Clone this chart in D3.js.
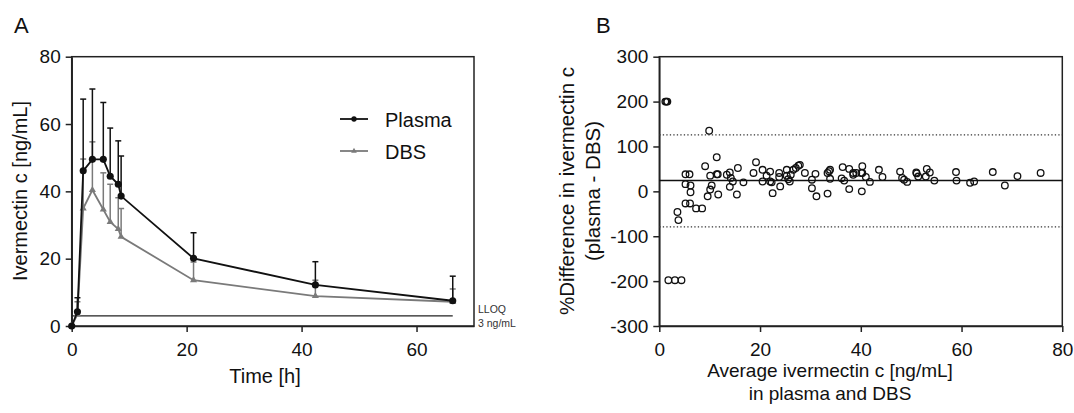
<!DOCTYPE html>
<html>
<head>
<meta charset="utf-8">
<script src="https://cdn.jsdelivr.net/npm/d3@7"></script>
<style>
  body { margin: 0; background: #fff; }
  svg { font-family: "Liberation Sans", Arial, sans-serif; }
  .axis text { font-size: 19px; fill: #111; }
  .axis line, .axis path { stroke: #222; stroke-width: 1.5; }
</style>
</head>
<body>
<svg id="chart" width="1074" height="413"></svg>
<script>
// panel A: time course, mean + upper SD
const times       = [0, 1, 2, 3.6, 5.5, 6.7, 8.1, 8.6, 21.2, 42.4, 66.3];
const plasmaMean  = [0, 4.2, 46.1, 49.5, 49.5, 44.5, 42.1, 38.6, 20.1, 12.2, 7.5];
const plasmaUpper = [0, 8.4, 67.4, 70.4, 66.4, 58.8, 55.0, 50.5, 27.7, 19.1, 14.8];
const dbsMean     = [0, 3.5, 34.9, 40.4, 34.6, 30.9, 28.8, 26.5, 13.6, 8.9, 7.2];
const dbsUpper    = [0, 7.2, 49.6, 54.7, 45.5, 42.1, 38.1, 34.9, 19.0, 13.6, 11.0];
const lloq = 3;
const ticksA_x = [0, 20, 40, 60];
const ticksA_y = [0, 20, 40, 60, 80];

// panel B: Bland-Altman
const avgConc = [1.2,1.4,1.6, 9.9, 3.6, 3.8, 1.8,3.1,4.4, 5.2,6.0, 5.2, 6.2, 6.2, 5.2,6.1, 7.3,8.5, 9.1, 9.6,
  10.1, 10.4, 10.1, 11.4, 11.4,11.6, 11.7, 13.4, 14.0, 14.2, 14.0, 14.6, 15.4, 15.6, 16.7, 18.7, 19.2, 20.5, 20.5, 21.3,
  22.0, 22.0, 22.3, 22.5, 23.8, 24.0, 23.8, 25.3, 25.3, 25.6, 25.9, 26.1, 26.6, 27.1, 27.6, 27.9, 28.9, 30.3, 30.3, 31.0,
  31.2, 33.4, 33.7, 33.9, 33.9, 33.4, 36.4, 36.2, 36.7, 37.7, 37.7, 38.5, 38.5, 39.1, 40.1, 40.3, 40.3, 40.2, 41.0, 41.8,
  43.6, 44.3, 47.8, 48.2, 48.6, 49.2, 51.0, 51.1, 51.4, 53.1, 53.7, 52.9, 54.6, 58.9, 59.0, 61.7, 62.5, 66.2, 68.6, 71.1, 75.7];
const pctDiff = [200,200,200, 135, -46, -64, -198,-198,-198, 38,38, 16, 13, -2, -27,-27, -38,-38, 56, -11,
  4, 13, 35, 76, 38,38, -7, 37, 42, 30, 10, 22, -7, 52, 20, 41, 65, 48, 22, 35,
  44, 22, 20, -4, 41, 11, 32, 48, 35, 27, 22, 37, 48, 52, 57, 59, 41, 26, 7, 39,
  -11, 41, 45, 48, 28, -5, 54, 29, 24, 50, 5, 41, 37, 41, 41, 56, 41, 0, 32, 21,
  48, 32, 44, 30, 26, 21, 42, 40, 33, 50, 42, 33, 24, 43, 24, 19, 22, 43, 13, 34, 41];
const bias = 24;
const limits = [-79, 126];
const ticksB_x = [0, 20, 40, 60, 80];
const ticksB_y = [-300, -200, -100, 0, 100, 200, 300];

const svg = d3.select("#chart");
const dark = "#111", grey = "#7a7a7a";

function frame(g, x, y) {
  g.append("rect")
    .attr("x", x.range()[0]).attr("y", y.range()[1])
    .attr("width", x.range()[1] - x.range()[0])
    .attr("height", y.range()[0] - y.range()[1])
    .attr("fill", "none").attr("stroke", "#222").attr("stroke-width", 1.5);
}

// plain hyphen for negatives, like the original figure
const fmt = d => String(d);

function axes(g, x, y, xt, yt) {
  g.append("g").attr("class", "axis")
    .attr("transform", `translate(0,${y.range()[0]})`)
    .call(d3.axisBottom(x).tickValues(xt).tickSize(6).tickSizeOuter(0).tickPadding(11).tickFormat(fmt));
  g.append("g").attr("class", "axis")
    .attr("transform", `translate(${x.range()[0]},0)`)
    .call(d3.axisLeft(y).tickValues(yt).tickSize(6).tickSizeOuter(0).tickPadding(5).tickFormat(fmt));
  frame(g, x, y);
}

// ---------- A ----------
const xA = d3.scaleLinear().domain([0, 70]).range([71.7, 474]);
const yA = d3.scaleLinear().domain([0, 80]).range([326, 56.7]);
const gA = svg.append("g");

gA.append("line")
  .attr("x1", xA(0)).attr("x2", xA(times[times.length - 1]))
  .attr("y1", yA(lloq)).attr("y2", yA(lloq))
  .attr("stroke", "#222").attr("stroke-width", 1.3);

axes(gA, xA, yA, ticksA_x, ticksA_y);

const series = [
  { mean: dbsMean, upper: dbsUpper, color: grey, shape: d3.symbolTriangle, size: 22 },
  { mean: plasmaMean, upper: plasmaUpper, color: dark, shape: d3.symbolCircle, size: 40 }
];
const line = d3.line().x((d, i) => xA(times[i])).y(d => yA(d));

series.forEach(s => {
  const eb = gA.append("g").attr("stroke", s.color).attr("stroke-width", 1.5);
  times.forEach((t, i) => {
    if (s.upper[i] <= s.mean[i]) return;
    eb.append("line").attr("x1", xA(t)).attr("x2", xA(t))
      .attr("y1", yA(s.mean[i])).attr("y2", yA(s.upper[i]));
    eb.append("line").attr("x1", xA(t) - 3).attr("x2", xA(t) + 3)
      .attr("y1", yA(s.upper[i])).attr("y2", yA(s.upper[i]));
  });
  gA.append("path").datum(s.mean).attr("d", line)
    .attr("fill", "none").attr("stroke", s.color).attr("stroke-width", 1.8);
  gA.selectAll(null).data(s.mean).enter().append("path")
    .attr("d", d3.symbol(s.shape, s.size))
    .attr("transform", (d, i) => `translate(${xA(times[i])},${yA(d)})`)
    .attr("fill", s.color);
});

// legend
const leg = [{ name: "Plasma", color: dark, shape: d3.symbolCircle, size: 22, y: 119 },
             { name: "DBS", color: grey, shape: d3.symbolTriangle, size: 14, y: 151 }];
leg.forEach(l => {
  gA.append("line").attr("x1", 340).attr("x2", 368).attr("y1", l.y).attr("y2", l.y)
    .attr("stroke", l.color).attr("stroke-width", 1.8);
  gA.append("path").attr("d", d3.symbol(l.shape, l.size))
    .attr("transform", `translate(354,${l.y})`).attr("fill", l.color);
  gA.append("text").attr("x", 385).attr("y", l.y + 7.5)
    .attr("font-size", 20).attr("fill", "#111").text(l.name);
});

gA.append("text").attr("x", 478).attr("y", 313).attr("font-size", 10.5).attr("fill", "#333").text("LLOQ");
gA.append("text").attr("x", 478).attr("y", 327).attr("font-size", 10.5).attr("fill", "#333").text("3 ng/mL");

gA.append("text").attr("x", 265).attr("y", 383).attr("text-anchor", "middle")
  .attr("font-size", 20).attr("fill", "#111").text("Time [h]");
gA.append("text").attr("transform", "translate(27,191) rotate(-90)").attr("text-anchor", "middle")
  .attr("font-size", 20).attr("fill", "#111").text("Ivermectin c [ng/mL]");
gA.append("text").attr("x", 14).attr("y", 33).attr("font-size", 22).attr("fill", "#111").text("A");

// ---------- B ----------
const xB = d3.scaleLinear().domain([0, 80]).range([659.3, 1062.3]);
const yB = d3.scaleLinear().domain([-300, 300]).range([326, 56.7]);
const gB = svg.append("g");

axes(gB, xB, yB, ticksB_x, ticksB_y);

gB.append("line").attr("x1", xB(0)).attr("x2", xB(80)).attr("y1", yB(bias)).attr("y2", yB(bias))
  .attr("stroke", "#111").attr("stroke-width", 1.5);
gB.selectAll(".loa").data(limits).enter().append("line")
  .attr("x1", xB(0)).attr("x2", xB(80)).attr("y1", d => yB(d)).attr("y2", d => yB(d))
  .attr("stroke", "#333").attr("stroke-width", 1.3).attr("stroke-dasharray", "1.3,2.2");

gB.selectAll(".pt").data(avgConc).enter().append("circle")
  .attr("cx", d => xB(d)).attr("cy", (d, i) => yB(pctDiff[i]))
  .attr("r", 3.3).attr("fill", "none").attr("stroke", "#111").attr("stroke-width", 1.3);

gB.append("text").attr("x", 830).attr("y", 377).attr("text-anchor", "middle")
  .attr("font-size", 19).attr("fill", "#111").text("Average ivermectin c [ng/mL]");
gB.append("text").attr("x", 830).attr("y", 400).attr("text-anchor", "middle")
  .attr("font-size", 19).attr("fill", "#111").text("in plasma and DBS");
gB.append("text").attr("transform", "translate(574,191) rotate(-90)").attr("text-anchor", "middle")
  .attr("font-size", 20.5).attr("fill", "#111").text("%Difference in ivermectin c");
gB.append("text").attr("transform", "translate(600,191) rotate(-90)").attr("text-anchor", "middle")
  .attr("font-size", 20.5).attr("fill", "#111").text("(plasma - DBS)");
gB.append("text").attr("x", 596).attr("y", 33).attr("font-size", 22).attr("fill", "#111").text("B");
</script>
</body>
</html>
